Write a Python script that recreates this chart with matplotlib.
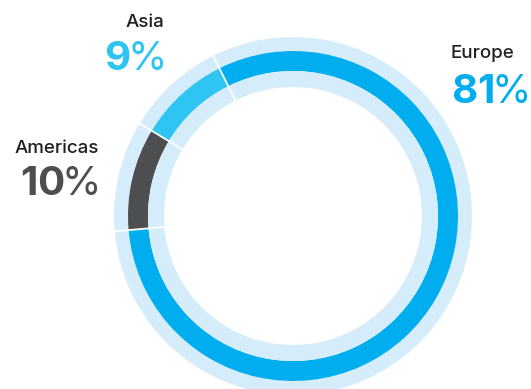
import numpy as np
import matplotlib.pyplot as plt

plt.rcParams["font.family"] = ["Inter", "DejaVu Sans"]
# bold digits via mathtext, the % sign stays in the regular weight
plt.rcParams["mathtext.fontset"] = "custom"
plt.rcParams["mathtext.rm"] = "Inter"
plt.rcParams["mathtext.bf"] = "Inter:bold"

# ---------- Data ----------
regions = ["Asia", "Americas", "Europe"]
shares = [9, 10, 81]
ring_colors = ["#30c4f3", "#4d4e50", "#00aeef"]
light = "#d5edfa"
label_color = "#231f20"

# ---------- Canvas (1 data unit = 1 px) ----------
W, H = 531, 389
fig = plt.figure(figsize=(W / 100, H / 100), dpi=100)
ax = fig.add_axes([0, 0, 1, 1])

cx, cy = 293, H - 216
r_out, r_mid, r_in, r_hole = 179, 165, 145, 129
start = 116.5

common = dict(center=(cx, cy), startangle=start, counterclock=True)
outer, _ = ax.pie(shares, radius=r_out, colors=[light] * 3,
                  wedgeprops=dict(width=r_out - r_mid, linewidth=0), **common)
ax.pie(shares, radius=r_mid, colors=ring_colors,
       wedgeprops=dict(width=r_mid - r_in, linewidth=0), **common)
ax.pie(shares, radius=r_in, colors=[light] * 3,
       wedgeprops=dict(width=r_in - r_hole, linewidth=0), **common)

# white separators across all three rings at each wedge boundary
for w in outer:
    a = np.deg2rad(w.theta1)
    ax.plot([cx + r_hole * np.cos(a), cx + (r_out + 1) * np.cos(a)],
            [cy + r_hole * np.sin(a), cy + (r_out + 1) * np.sin(a)],
            color="white", lw=1.3, solid_capstyle="butt", zorder=5)

ax.set_xlim(0, W)
ax.set_ylim(0, H)
ax.set_aspect("equal")
ax.axis("off")

# ---------- Labels ----------
# (x, name baseline, pct baseline, alignment)
label_pos = {
    "Asia": (164, H - 27, H - 70, "right"),
    "Americas": (99, H - 153, H - 195, "right"),
    "Europe": (451, H - 58, H - 103, "left"),
}

for name, val, col in zip(regions, shares, ring_colors):
    x, y_name, y_pct, ha = label_pos[name]
    ax.text(x, y_name, name, fontsize=13.5, fontweight="medium", color=label_color,
            ha=ha, va="baseline")
    ax.text(x, y_pct, r"$\mathbf{%d}\hspace{-0.07}$%%" % val, fontsize=29, color=col,
            ha=ha, va="baseline")

plt.savefig("out.png", dpi=100)
